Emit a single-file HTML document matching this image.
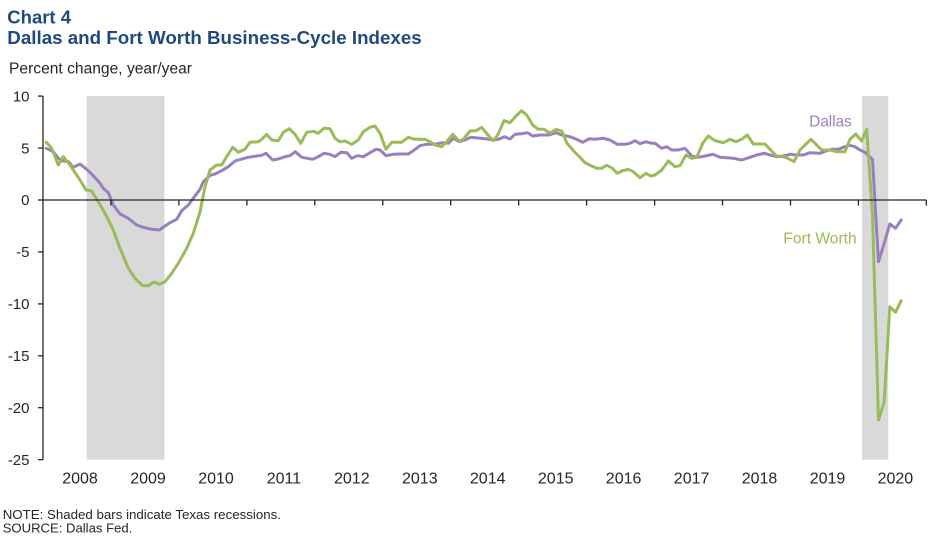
<!DOCTYPE html>
<html>
<head>
<meta charset="utf-8">
<style>
  html, body { margin: 0; padding: 0; background: #ffffff; }
  body { width: 949px; height: 541px; overflow: hidden; }
  svg { display: block; font-family: "Liberation Sans", Arial, sans-serif; }
</style>
</head>
<body>
<svg width="949" height="541" viewBox="0 0 949 541" xmlns="http://www.w3.org/2000/svg">
  <rect x="0" y="0" width="949" height="541" fill="#ffffff"/>

  <!-- Titles -->
  <text x="7.3" y="23.3" font-size="18.5" font-weight="bold" fill="#1f4a80" textLength="63.7" lengthAdjust="spacingAndGlyphs">Chart 4</text>
  <text x="7.3" y="44" font-size="18.5" font-weight="bold" fill="#1f4a80" textLength="414.4" lengthAdjust="spacingAndGlyphs">Dallas and Fort Worth Business-Cycle Indexes</text>
  <text x="9" y="73.3" font-size="15.5" fill="#262626" textLength="183" lengthAdjust="spacingAndGlyphs">Percent change, year/year</text>

  <!-- Recession bands -->
  <rect x="86.6" y="96" width="77.8" height="363.7" fill="#d9d9d9"/>
  <rect x="862" y="96" width="26.3" height="363.7" fill="#d9d9d9"/>

  <!-- Y axis -->
  <g stroke="#262626" stroke-width="1.3" fill="none">
    <line x1="43" y1="96" x2="43" y2="459.7"/>
    <line x1="38" y1="96.1" x2="43" y2="96.1"/>
    <line x1="38" y1="148.1" x2="43" y2="148.1"/>
    <line x1="38" y1="200" x2="43" y2="200"/>
    <line x1="38" y1="251.9" x2="43" y2="251.9"/>
    <line x1="38" y1="303.9" x2="43" y2="303.9"/>
    <line x1="38" y1="355.8" x2="43" y2="355.8"/>
    <line x1="38" y1="407.7" x2="43" y2="407.7"/>
    <line x1="38" y1="459.7" x2="43" y2="459.7"/>
  </g>
  <g font-size="15" fill="#262626" text-anchor="end">
    <text x="29.5" y="101.3">10</text>
    <text x="29.5" y="153.3">5</text>
    <text x="29.5" y="205.2">0</text>
    <text x="29.5" y="257.1">-5</text>
    <text x="29.5" y="309.1">-10</text>
    <text x="29.5" y="361">-15</text>
    <text x="29.5" y="412.9">-20</text>
    <text x="29.5" y="464.9">-25</text>
  </g>

  <!-- X axis labels -->
  <g font-size="16" fill="#262626" text-anchor="middle">
    <text x="80" y="483.3">2008</text>
    <text x="148" y="483.3">2009</text>
    <text x="216" y="483.3">2010</text>
    <text x="283.9" y="483.3">2011</text>
    <text x="351.8" y="483.3">2012</text>
    <text x="419.8" y="483.3">2013</text>
    <text x="487.7" y="483.3">2014</text>
    <text x="555.7" y="483.3">2015</text>
    <text x="623.6" y="483.3">2016</text>
    <text x="691.6" y="483.3">2017</text>
    <text x="759.5" y="483.3">2018</text>
    <text x="827.5" y="483.3">2019</text>
    <text x="895.4" y="483.3">2020</text>
  </g>

  <!-- Dallas (purple) -->
  <polyline fill="none" stroke="#9880bf" stroke-width="3" stroke-linejoin="round" stroke-linecap="round" points="
    46.3,148.3 53.3,151.7 58.3,158.3 63.3,161 68.3,161.5 73.3,167.3 80,164 86.7,169.3 93.3,175.7 100,183.3
    103.3,188.3 108.3,192.7 113.3,205 120,214 128.3,218.3 136.7,225 143.3,227.3 151.7,229.3 159.3,230 165,226
    170,222.7 176.7,219.3 181.7,210.7 188.3,205 193.3,198.3 200,189.3 203.3,181.7 210,175.3 215,174 221.7,170.7
    228.3,166.7 235,161 241.7,159 248.3,157.3 256.7,156 261.7,155.3 266,153.3 272.7,160 278.3,159 285,156.7
    290,155.7 295.3,151.7 301.7,157.3 312.7,159.3 318.3,156.7 324,153.3 330,154.3 335,156.7 340.7,152.3 346.7,152.7
    351.7,158.3 357.3,155.7 363.3,156.7 370,152.7 376,149.3 380,150 386,155.7 393.3,154.3 400,154 408.3,154
    413.3,150.7 420,145.7 426.7,144.3 435,144.3 441.7,142.7 448.3,143.3 453.3,138.3 459.3,141.7 465,140 470.7,137.3
    480,138.3 487.3,139 493.3,140 499.3,139 504.3,136.7 510,139 515,134.3 521.7,133.7 527.7,132.7 532.7,136
    540,135 549.3,135 556,132.7 561.7,135 570,136.7 576.7,139.3 582.7,142.3 589.3,138.7 595,139.3 603.3,138.3
    610,140 617.3,144.3 625,144.3 630,143.3 635,140.7 640,143.7 646,141.7 651.7,143.3 655,143.3 661.7,148.3
    666.7,146.7 671.7,150 678.3,150 685,148.3 691.7,156 698.3,157.3 705,156 712.7,154.3 720,157.3 733.3,158.3
    741.7,160 750,157.3 756.7,155 764.3,153.3 770,155 776.7,156.7 783.3,156 790,154.3 796.7,155 803.3,155
    810,152.7 820,153.3 826.7,150.7 831.7,149.3 838.3,149.3 843.3,147.3 849.3,145.3 855,146.7 860,150 865,152.3
    872.5,159.5 878.5,261.7 884.2,243.3 889.8,224 895.5,228.3 901.2,220"/>

  <!-- Fort Worth (green) -->
  <polyline fill="none" stroke="#9bbb59" stroke-width="3" stroke-linejoin="round" stroke-linecap="round" points="
    46.3,142.3 51.7,148.3 58.3,165 63.3,156.7 68.3,162.7 73.3,170 80,180 86,190 91.7,191 98.3,201.7
    105,213.3 113.3,230 120,248.3 128.3,268.3 135,278.3 142.7,285.7 148.3,285.7 154,282 159.3,284.3 165,281.7
    171.7,273.3 178.3,263.3 186.7,248.3 193.3,233.3 200,212 205,186.7 210,170 216.7,165 221.7,165 226.7,156.7
    232.7,147.3 238.3,152.3 245,149.3 250,142.3 258.3,141.7 261.7,139.3 266.7,134.3 271.7,140 278.3,140.7 283.3,132.3
    289.3,128.7 295,134.3 300.7,143.3 306.7,132.3 313.3,131.3 318.3,133.3 324,128.3 330,128.7 335,138.3 340,141.7
    345,141 351.7,144.3 358.3,140 363.3,131.7 370,127.3 375,126 380,133.3 386,149.3 391.7,142.3 401.7,142.3
    408.3,137.3 415,139.3 425,139.3 430,141.7 435,145 441.7,146.7 446.7,141.7 452.7,134.3 459.3,141 463.3,139.3
    470,131 476,130.7 481.7,127.3 487.3,134.3 493.3,140.7 497.7,135 504,120.7 510,122.7 516,116 521.7,110.7
    526.7,115 532.7,125 538.3,129.3 544,129.3 550,133.3 556,129.3 561.7,131 566.7,142.7 573.3,150.7 580,157.3
    585,162.7 591.7,166 596.7,168.3 601.7,168.3 606.7,165.3 611.7,167.7 617.3,173.3 621.7,171 628.3,169.3 633.3,171.7
    640,177.7 646,173.3 650.7,176 655,175 661.7,170 668.3,161 675,166.7 680,165.7 686,155 691.7,158.3
    696.7,157.3 702.7,143.3 708.3,136 715,140.7 723.3,142.7 730,139.3 736,141.7 741.7,139.3 747.3,135 753.3,144
    765,144 770.7,150 776.7,156 783.3,156.7 789.3,159 794,161.7 800,150 805,145 811,139.3 816.7,145
    821.7,150 830,150 836.7,151.7 845,151.7 850,139.3 855.7,134 861.7,141 866.7,129.3 872.5,215 878.5,420
    884.2,401.7 889.8,306.7 895.5,312.3 901.2,300.7"/>

  <!-- X axis -->
  <g stroke="#262626" stroke-width="1.3" fill="none">
    <line x1="43" y1="200" x2="926.3" y2="200"/>
    <line x1="111" y1="200" x2="111" y2="205.5"/>
    <line x1="178.9" y1="200" x2="178.9" y2="205.5"/>
    <line x1="246.9" y1="200" x2="246.9" y2="205.5"/>
    <line x1="314.8" y1="200" x2="314.8" y2="205.5"/>
    <line x1="382.8" y1="200" x2="382.8" y2="205.5"/>
    <line x1="450.7" y1="200" x2="450.7" y2="205.5"/>
    <line x1="518.7" y1="200" x2="518.7" y2="205.5"/>
    <line x1="586.6" y1="200" x2="586.6" y2="205.5"/>
    <line x1="654.6" y1="200" x2="654.6" y2="205.5"/>
    <line x1="722.5" y1="200" x2="722.5" y2="205.5"/>
    <line x1="790.5" y1="200" x2="790.5" y2="205.5"/>
    <line x1="858.4" y1="200" x2="858.4" y2="205.5"/>
    <line x1="926.3" y1="200" x2="926.3" y2="205.5"/>
  </g>

  <!-- Series labels -->
  <text x="809.3" y="126.3" font-size="16" fill="#9880bf" textLength="42.4" lengthAdjust="spacingAndGlyphs">Dallas</text>
  <text x="783.3" y="243.3" font-size="16" fill="#9bbb59" textLength="73.4" lengthAdjust="spacingAndGlyphs">Fort Worth</text>

  <!-- Notes -->
  <text x="2.7" y="519" font-size="13.3" fill="#262626" textLength="278.3" lengthAdjust="spacingAndGlyphs">NOTE: Shaded bars indicate Texas recessions.</text>
  <text x="2.7" y="532.7" font-size="13.3" fill="#262626" textLength="129.6" lengthAdjust="spacingAndGlyphs">SOURCE: Dallas Fed.</text>
</svg>
</body>
</html>
